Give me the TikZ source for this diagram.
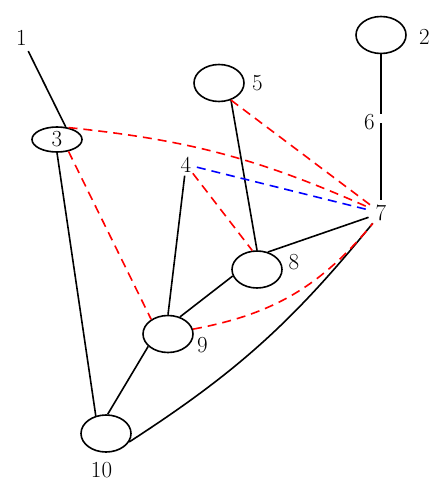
\documentclass[tikz,border=0pt]{standalone}
\usepackage{tikz}
\usetikzlibrary{shapes.geometric}
\tikzset{
  vertex/.style={ellipse, draw=black, line width=1.6pt, minimum width=50pt, minimum height=37pt, inner sep=1pt},
  smallvertex/.style={vertex, minimum height=25pt},
  point/.style={circle, inner sep=0pt, minimum size=22pt},
  tree/.style={black, line width=1.6pt},
  cotree/.style={red, line width=1.6pt, dash pattern=on 9pt off 6pt},
  special/.style={blue, line width=1.6pt, dash pattern=on 9pt off 6pt},
  every label/.style={inner sep=1pt}
}
\begin{document}
\begin{tikzpicture}[x=1pt, y=-1pt, font=\fontsize{23}{27}\selectfont]
  \useasboundingbox (0,0) rectangle (447,500);

  % Vertices
  \node (v1) [point, minimum size=30pt] at (21.5,37.5) {1};
  \node (v2) [vertex, label={[label distance=11pt, yshift=-2pt]right:2}] at (381,35) {};
  \node (v3) [smallvertex] at (57,139.5) {3};
  \node (v4) [point] at (186,164.5) {4};
  \node (v5) [vertex, label={[label distance=6pt]right:5}] at (219,83) {};
  \node (v6) [circle, inner sep=0pt, minimum size=9pt, label={[label distance=0.5pt, yshift=-4pt]left:6}] at (381,118.5) {};
  \node (v7) [point, minimum size=26pt] at (381,213) {7};
  \node (v8) [vertex, label={[label distance=4.5pt, yshift=7.5pt]right:8}] at (257,269.5) {};
  \node (v9) [vertex, label={[label distance=2pt, yshift=-11pt]right:9}] at (168,334) {};
  \node (v10) [vertex, label={[label distance=8pt, xshift=-4.5pt]below:10}] at (106,433.5) {};

  % Solid edges
  \draw [tree] (v1) -- (v3.55);
  \draw [tree] (v2) -- (v6) -- (v7);
  \draw [tree] (v3.south) -- (v10.120);
  \draw [tree] (v5.-55) -- (v8.north);
  \draw [tree] (v4) -- (v9.north);
  \draw [tree] (v9.55) -- (v8.195);
  \draw [tree] (v8.58) -- (v7);
  \draw [tree] (v10.85) -- (v9.212);
  \draw [tree] (v10.-20) to[bend right=9] (v7);

  % Dashed edges
  \draw [cotree] (v3.46) to[bend left=9] (v7);
  \draw [cotree] (v3.-46) -- (v9.139);
  \draw [cotree] (v4) -- (v8.104);
  \draw [cotree] (v5.-55) -- (v7);
  \draw [cotree] (v9.11) to[bend right=20] (v7);
  \draw [special] (v4) -- (v7);

\end{tikzpicture}
\end{document}
